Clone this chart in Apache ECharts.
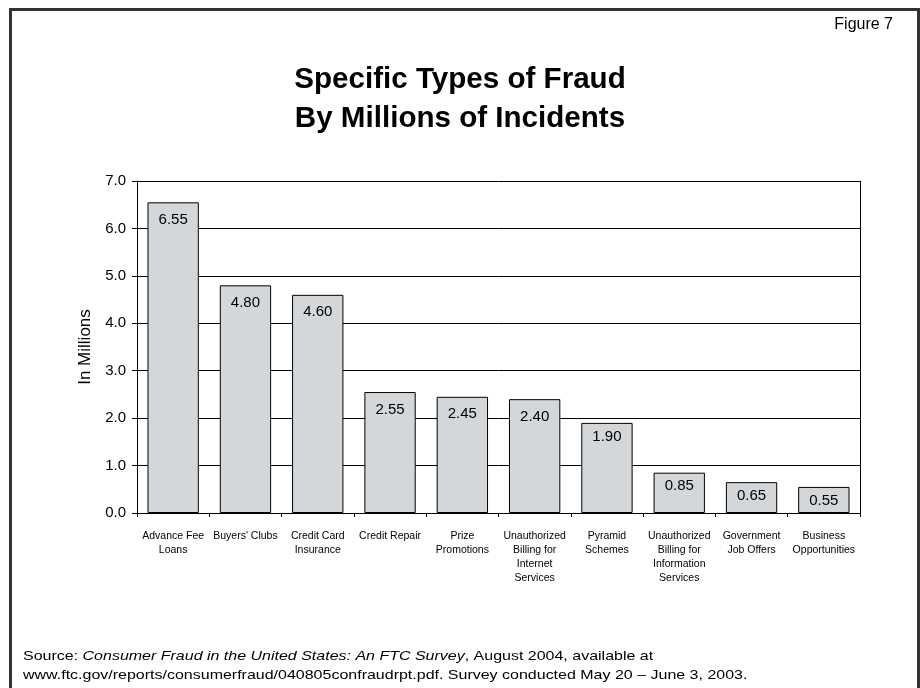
<!DOCTYPE html>
<html>
<head>
<meta charset="utf-8">
<script src="https://cdn.jsdelivr.net/npm/echarts@6/dist/echarts.min.js"></script>
<style>
  html, body { margin: 0; padding: 0; background: #fff; }
  #chart { width: 920px; height: 688px; }
</style>
</head>
<body>
<div id="chart"></div>
<script>
// Fraud categories and incident counts (millions)
const categories = [
  'Advance Fee\nLoans',
  "Buyers' Clubs",
  'Credit Card\nInsurance',
  'Credit Repair',
  'Prize\nPromotions',
  'Unauthorized\nBilling for\nInternet\nServices',
  'Pyramid\nSchemes',
  'Unauthorized\nBilling for\nInformation\nServices',
  'Government\nJob Offers',
  'Business\nOpportunities'
];
const incidents = [6.55, 4.80, 4.60, 2.55, 2.45, 2.40, 1.90, 0.85, 0.65, 0.55];
const titleLines = ['Specific Types of Fraud', 'By Millions of Incidents'];
const figureLabel = 'Figure 7';
const sourceLines = [
  '{r|Source: }{i|Consumer Fraud in the United States: An FTC Survey}{r|, August 2004, available at}',
  '{r|www.ftc.gov/reports/consumerfraud/040805confraudrpt.pdf. Survey conducted May 20 \u2013 June 3, 2003.}'
];

const chart = echarts.init(document.getElementById('chart'), null, { renderer: 'canvas' });

const sans = "'Liberation Sans', Arial, sans-serif";

// short bars keep their value label tucked closer to the top edge
const barData = incidents.map(v => ({
  value: v,
  label: { distance: v < 2 ? 6 : 10 }
}));

chart.setOption({
  animation: false,
  backgroundColor: '#ffffff',
  grid: { left: 137, top: 181, width: 723, height: 332, containLabel: false },
  xAxis: {
    type: 'category',
    data: categories,
    axisLine: { show: true, lineStyle: { color: '#000', width: 1 } },
    axisTick: { show: true, length: 4, lineStyle: { color: '#000' } },
    axisLabel: {
      interval: 0,
      margin: 16,
      fontFamily: sans,
      fontSize: 10.5,
      lineHeight: 14,
      color: '#000'
    },
    splitLine: { show: false }
  },
  yAxis: {
    type: 'value',
    min: 0,
    max: 7,
    interval: 1,
    name: 'In Millions',
    nameLocation: 'middle',
    nameGap: 41,
    nameTextStyle: { fontFamily: sans, fontSize: 17, color: '#000' },
    axisLine: { show: true, lineStyle: { color: '#000' } },
    axisTick: { show: true, length: 5, lineStyle: { color: '#000' } },
    axisLabel: {
      formatter: v => v.toFixed(1),
      fontFamily: sans,
      fontSize: 15,
      color: '#000',
      margin: 11
    },
    splitLine: { show: true, lineStyle: { color: '#000', width: 1 } }
  },
  series: [{
    type: 'bar',
    data: barData,
    barCategoryGap: '29%',
    itemStyle: { color: '#d4d7da', borderColor: '#000', borderWidth: 1 },
    label: {
      show: true,
      position: 'insideTop',
      distance: 10,
      formatter: p => p.value.toFixed(2),
      fontFamily: sans,
      fontSize: 15,
      color: '#000'
    }
  }],
  graphic: [
    // outer frame
    {
      type: 'rect',
      shape: { x: 10.5, y: 9.5, width: 908, height: 700 },
      style: { fill: 'none', stroke: '#333', lineWidth: 3 },
      silent: true
    },
    // right edge of the plot frame
    {
      type: 'line',
      shape: { x1: 860.5, y1: 181, x2: 860.5, y2: 513 },
      style: { stroke: '#000', lineWidth: 1 },
      silent: true
    },
    // title, two centred lines
    {
      type: 'text',
      x: 460,
      y: 99,
      scaleX: 1.02,
      silent: true,
      style: {
        text: titleLines.join('\n'),
        x: 0,
        y: 0,
        align: 'center',
        verticalAlign: 'middle',
        font: "bold 29px 'Liberation Sans', Arial, sans-serif",
        lineHeight: 39,
        fill: '#000'
      }
    },
    // figure number
    {
      type: 'text',
      x: 893,
      y: 25,
      silent: true,
      style: {
        text: figureLabel,
        align: 'right',
        verticalAlign: 'middle',
        font: "16px 'Liberation Sans', Arial, sans-serif",
        fill: '#000'
      }
    },
    // source note
    {
      type: 'text',
      x: 23,
      y: 665.5,
      scaleX: 1.23,
      silent: true,
      style: {
        text: sourceLines.join('\n'),
        x: 0,
        y: 0,
        verticalAlign: 'middle',
        rich: {
          r: { fontFamily: sans, fontSize: 13, color: '#000', lineHeight: 19 },
          i: { fontFamily: sans, fontSize: 13, fontStyle: 'italic', color: '#000', lineHeight: 19 }
        }
      }
    }
  ]
});
</script>
</body>
</html>
